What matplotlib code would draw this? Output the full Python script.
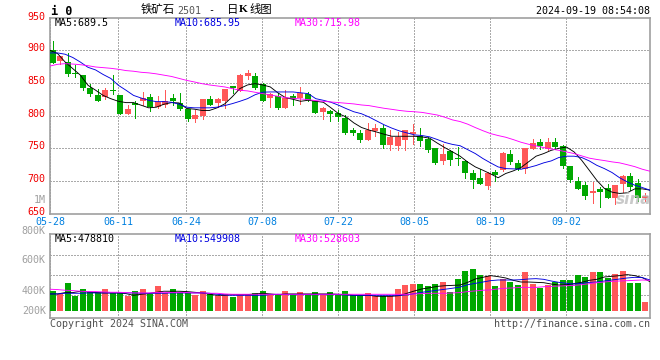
import numpy as np
import matplotlib
matplotlib.use('Agg')
import matplotlib.pyplot as plt

# daily candles for the iron ore contract
opens = [900,883,881.6,866,863,842,831,828,840,831,803,819.5,822,829,814,817,827.6,820,810,794.5,799,825,819,
         822.6,845,838,860,861,849,827,830,811,830,826.6,832.8,822,805,806.8,804,797,778.7,774,762.4,777,781.8,
         754.8,753,762.4,771.6,769.6,765,750,730.3,746,735.4,730.3,712,704.3,692,713.5,716.6,741,727,718,748.7,
         759.4,748.7,759.4,753.2,722.7,699.7,693.6,681.4,687.5,689,673.7,695,707.4,696.7,673.7]
closes = [881,891,864,864,842,833,823,839,837,803,810,816,827.6,813,821.5,823,822.6,810,794.5,800.6,825,817,825.6,
          841,842.5,863,865,843,823,833,811,827.6,826,834,823.6,804,811,802.7,798,773,773,762.4,778.7,780.8,754.8,
          767.5,767.5,778.7,775.7,761,747,727,741,732,733.9,712,701.3,695,712,709,742.5,728.8,718,750,757.8,
          753.2,759.4,751.7,722.7,701.3,687.5,676.8,684.4,683,673.7,693.6,707.4,690.6,673.7,676.8]
highs = [914,891,896,877,863,849,841,843,862,831,816,823,836,833,830,840,833,834,810,808,825,830,826.5,
         841,846,864,870,866,850,835,834,839,833,843.5,836,822,814,808,808,800.6,781.8,777.7,789,787,786,
         778.7,774.7,778.7,788,780.8,767.5,751,756,748,752,731.8,716.6,718,713.5,716.6,744,747,731.8,750,764,
         764,765.5,765.5,754.8,722.7,705.9,698,698,690.6,695,693.6,709,712,702.8,681.4]
lows = [881,878.5,860,859,840,830,822,825,833,803,802,797,817,807,812,813,817,809,791.5,790,794.5,816,813,
        811,834,838,856,841,823,814,810,811,817,818,822,804,795.6,791.5,791.5,771.6,770,759.4,762.4,768.5,750,
        748,748,747,757,753,744,725.7,726.7,724,724,704.3,689,695,687.5,700,715,725.7,716.6,712,748.7,
        748.7,747,748.7,719.6,698,687.5,672.2,666,660,673.7,664.6,683,686,669,669]

ma5 = [900,895,882,872,862,846.5,839,831,826,822,820,820,816,812,813,817.5,820,819.5,811,810,808,808,812,
       818,829,841.5,847,849,847,844,835,827.6,825,822,823.6,822,820.5,812,803,798,789,782,778,775,771.6,
       768.5,768.5,768.5,768.5,767.5,765.5,758,751,744.6,738,729,721.6,716.5,711,705,711.5,715.5,720.6,729.3,738,
       742,747,750,752,744.6,731.8,716.5,701,688.5,683,681,682,688,688,686]
ma10 = [896,896,894,889,882,874,870,863,857,846.5,839,831,827,823.5,821.5,821.5,820.5,817.5,813,812,812,812,813,
        815.4,818.4,822,826,832,836,836.3,836.3,836.3,836.3,835,833.7,826,823.5,820.5,816,810.8,806,803,798,792,786,
        781,776.7,773.6,770.6,769.6,767.5,763.5,759,756,754,748,742,734.4,727.8,721.6,719,718.6,718,720.6,723.7,
        727.8,730.8,736,738,738,736,730.8,724,719,713,705,698.7,693.6,690,686]
ma30 = [876,878.6,879.6,879,878,876.5,874.5,873.5,872.5,871,869,868,866.4,865.5,864,862,860,857,854,851.6,849,847,845.5,
        844,841.4,838.9,837.9,835.8,833.8,831.7,829.7,827.6,826.6,825.6,824.6,823,822,821,820,819,818,816.4,815.4,813.3,811.3,
        809.7,808,806.7,806,805,803,801,797.6,793.5,791,787,781.8,777,772.6,769.6,767,763.4,759.4,756.3,753.8,
        751.2,749,747,744.6,742,738.5,735,733,731.3,729.3,727.8,725,722,718,715]

# volume, in thousands
volume = [463,445,510,433,475,457,457,475,451,451,433,463,475,445,492,451,475,457,451,439,463,445,435,
          445,427,439,439,451,463,445,439,463,445,457,445,457,445,457,445,463,439,439,451,433,433,
          433,475,498,504,504,492,504,516,457,534,582,594,558,552,492,534,516,498,576,504,481,498,516,
          528,528,558,546,576,576,540,564,582,510,510,397]
vol_ma5 = [445,445,453,453,461,457,453,451,451,451,447,437,443,447,455,461,461,461,459,455,451,443,437,
           437,441,441,441,445,449,445,441,445,445,445,445,445,445,445,443,441,437,437,437,431,431,
           431,435,449,463,475,482,490,494,496,498,514,534,544,554,548,540,526,516,516,514,512,504,498,
           500,506,514,526,532,546,550,554,560,554,542,518]
vol_ma10 = [445,445,449,449,449,451,451,451,451,451,451,451,449,449,449,449,451,451,451,451,451,449,443,
            439,437,437,437,437,437,441,443,441,441,441,441,441,441,441,441,439,437,437,437,437,437,
            437,437,439,447,455,461,467,473,479,486,500,508,516,524,528,528,528,530,534,536,532,522,514,
            508,504,508,514,516,522,528,534,540,544,542,528]
vol_ma30 = [473,471,467,465,461,459,459,457,455,455,453,451,451,451,453,455,453,453,453,451,451,449,449,
            445,443,443,443,443,443,443,443,443,443,443,443,443,443,443,443,443,443,443,443,443,443,
            443,443,443,445,447,449,449,449,451,453,459,463,467,469,475,479,481,484,484,484,488,490,492,
            494,496,500,506,512,516,520,522,524,526,528,526]

tick_labels = ['05-28', '06-11', '06-24', '07-08', '07-22', '08-05', '08-19', '09-02']
tick_pos = [-0.36, 8.76, 17.8, 27.95, 38.08, 48.2, 58.35, 68.5]
price_labels = ['950', '900', '850', '800', '750', '700', '650']
price_pos = [948, 900, 850, 800, 750, 700, 650]
vol_labels = ['800K', '600K', '400K', '200K']
vol_label_pos = [820, 647, 464, 344]

RED = '#ff5858'
GREEN = '#00a800'
GRID = '#aaaaaa'
BORDER = '#a0a0a0'
MONO = 'DejaVu Sans Mono'

plt.rcParams['font.family'] = [MONO, 'Noto Sans CJK SC']

fig = plt.figure(figsize=(6.6, 3.6), dpi=100)
ax = fig.add_axes([50/660, 1-213.7/360, 600/660, 195.4/360])
ax_vol = fig.add_axes([50/660, 1-318.3/360, 600/660, 84/360])

x = np.arange(len(opens))
# the average lines run from border to border, the candles sit in slots
line_x = np.linspace(-0.36, 79.64, len(opens))
up = np.array(closes) >= np.array(opens)
colors = [RED if u else GREEN for u in up]

# candles
ax.vlines(x, lows, highs, colors=colors, lw=0.6, zorder=2, antialiased=False)
ax.bar(x, np.abs(np.array(closes)-np.array(opens)), bottom=np.minimum(opens, closes),
       width=0.8, color=colors, zorder=3, antialiased=False)
for vals, c in [(ma5, 'black'), (ma10, '#0000e0'), (ma30, '#ff00ff')]:
    ax.plot(line_x, vals, color=c, lw=0.65, zorder=4)

# volume bars start from a floor above the axis bottom
vol_floor = 344
ax_vol.bar(x, np.array(volume)-vol_floor, bottom=vol_floor, width=0.8, color=colors, zorder=3,
           antialiased=False)
for vals, c in [(vol_ma5, 'black'), (vol_ma10, '#0000e0'), (vol_ma30, '#ff00ff')]:
    ax_vol.plot(line_x, vals, color=c, lw=0.65, zorder=4)

for a in (ax, ax_vol):
    a.set_xlim(-0.36, 79.64)
    a.grid(True, color=GRID, linestyle=(0, (1, 1.2)), lw=0.75, antialiased=False)
    a.set_axisbelow(True)
    a.tick_params(length=0)
    a.set_xticks(tick_pos)
    for s in a.spines.values():
        s.set_color(BORDER)
        s.set_linewidth(1.2)

ax.set_ylim(650, 949)
ax.set_yticks([700, 750, 800, 850, 900])
ax.set_yticklabels([])
ax.set_xticklabels(tick_labels, color='#0080e0', fontsize=7.2, family=MONO)
ax.tick_params(axis='x', pad=2.5)

ax_vol.set_ylim(300, 800)
ax_vol.set_yticks([677, 558, 439])
ax_vol.set_yticklabels([])
ax_vol.set_xticklabels([])

# y labels sit a little above their gridlines
for lab, p in zip(price_labels, price_pos):
    ax.annotate(lab, (0, p), xycoords=ax.get_yaxis_transform(), xytext=(-3, 1.5),
                textcoords='offset points', ha='right', va='center',
                color='#f00000', fontsize=7.2, annotation_clip=False)
ax.annotate('1M', (0, 670.6), xycoords=ax.get_yaxis_transform(), xytext=(-3, 0),
            textcoords='offset points', ha='right', va='center',
            color='#a0a0a0', fontsize=7.2, annotation_clip=False)
for lab, p in zip(vol_labels, vol_label_pos):
    ax_vol.annotate(lab, (0, p), xycoords=ax_vol.get_yaxis_transform(), xytext=(-3, 0),
                    textcoords='offset points', ha='right', va='center',
                    color='#a0a0a0', fontsize=7.2, annotation_clip=False)


def px_text(px, py, s, **kw):
    # place text by pixel position in the 660x360 picture
    kw.setdefault('va', 'center')
    kw.setdefault('fontsize', 7.2)
    fig.text(px/660, 1-py/360, s, **kw)


px_text(51, 11.5, 'i 0', fontweight='bold', fontsize=8.5)
px_text(141, 10, '铁矿石', family='Noto Sans CJK SC', fontsize=8.2)
px_text(177, 10.5, '2501', color='#555555')
px_text(208, 10, '-', fontsize=7.2)
px_text(227, 10, '日', family='Noto Sans CJK SC', fontsize=8.2)
px_text(239, 10, 'K', family='Liberation Serif', fontweight='bold', fontsize=8.2)
px_text(249, 10, '线图', family='Noto Sans CJK SC', fontsize=8.2)
px_text(650, 11.5, '2024-09-19 08:54:08', ha='right')

px_text(55, 23.5, 'MA5:689.5')
px_text(175, 23.5, 'MA10:685.95', color='#0000e0')
px_text(295, 23.5, 'MA30:715.98', color='#ff00ff')
px_text(55, 238.5, 'MA5:478810')
px_text(175, 238.5, 'MA10:549908', color='#0000e0')
px_text(295, 238.5, 'MA30:528603', color='#ff00ff')
px_text(50, 324, 'Copyright 2024 SINA.COM', color='#505050')
px_text(650, 324, 'http://finance.sina.com.cn', ha='right', color='#505050')

# faint watermark in the corner
px_text(634, 200, 'sina', color='#b8b8b8', alpha=0.75, fontsize=11, fontweight='bold',
        style='italic', family='DejaVu Sans', ha='center', zorder=6)

plt.savefig('out.png', dpi=100)
